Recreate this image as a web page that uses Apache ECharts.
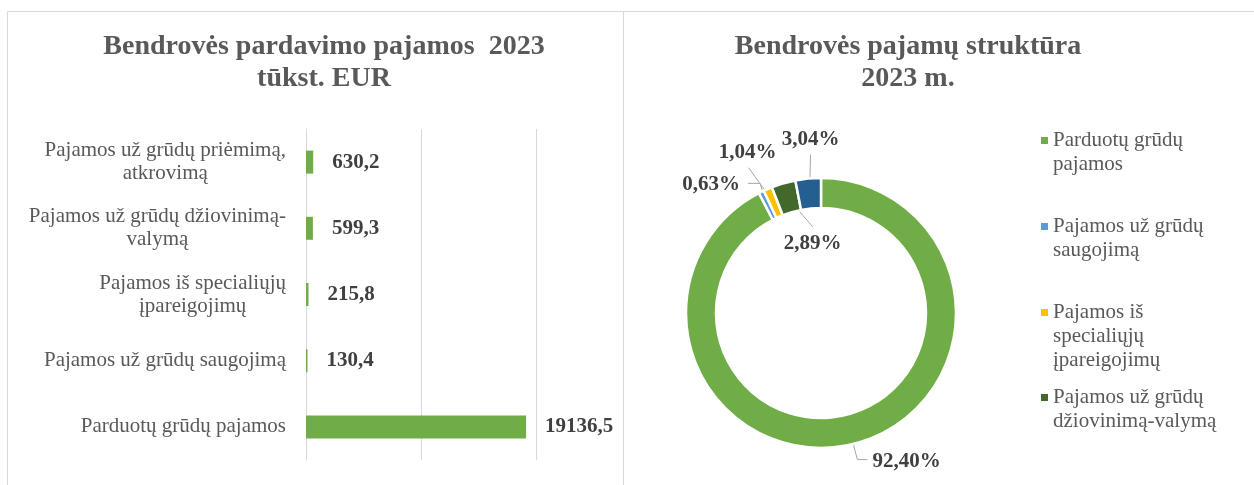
<!DOCTYPE html>
<html>
<head>
<meta charset="utf-8">
<script src="https://cdn.jsdelivr.net/npm/echarts@6/dist/echarts.min.js"></script>
<style>
  html, body { margin: 0; padding: 0; background: #fff; }
  #chart { width: 1254px; height: 485px; }
</style>
</head>
<body>
<div id="chart"></div>
<script>
// category order as in the source sheet (first one drawn at the bottom of the bar chart)
const categories = [
  'Parduotų grūdų pajamos',
  'Pajamos už grūdų saugojimą',
  'Pajamos iš specialiųjų įpareigojimų',
  'Pajamos už grūdų džiovinimą-valymą',
  'Pajamos už grūdų priėmimą, atkrovimą'
];
const axisLabels = [
  'Parduotų grūdų pajamos',
  'Pajamos už grūdų saugojimą',
  'Pajamos iš specialiųjų\nįpareigojimų',
  'Pajamos už grūdų džiovinimą-\nvalymą',
  'Pajamos už grūdų priėmimą,\natkrovimą'
];
const revenue = [19136.5, 130.4, 215.8, 599.3, 630.2];   // tūkst. EUR
const shares = [92.40, 0.63, 1.04, 2.89, 3.04];           // %
const legendLabels = [
  'Parduotų grūdų\npajamos',
  'Pajamos už grūdų\nsaugojimą',
  'Pajamos iš\nspecialiųjų\nįpareigojimų',
  'Pajamos už grūdų\ndžiovinimą-valymą'
];
const pieColors = ['#70AD47', '#5B9BD5', '#FFC000', '#43682B', '#255E91'];

const FONT = '"Liberation Serif", "Times New Roman", serif';
const PIE_CX = 821, PIE_CY = 313, R_IN = 105, R_OUT = 135;
const LEG_LH = 24;

// where each percentage label sits relative to its slice (label offset, line end)
const pieLabelPlace = [
  { dx: 23, dy: 32, align: 'left', line: [[8, 30], [18, 30]] },
  { dx: -28, dy: -21, align: 'right', line: [[-8, -22], [-20, -22]] },
  { dx: -26, dy: -50, align: 'center', line: [[-25, -35]] },
  { dx: 25, dy: 46, align: 'center', line: [[25, 29]] },
  { dx: 1, dy: -54, align: 'center', line: [[1, -39]] }
];
const legendIconY = [142, 228, 314, 399];

const chart = echarts.init(document.getElementById('chart'));

const shareTotal = shares.reduce((a, b) => a + b, 0);
function sliceAnchor(i) {
  let before = 0;
  for (let k = 0; k < i; k++) before += shares[k];
  const a = (before + shares[i] / 2) / shareTotal * Math.PI * 2;
  const r = (R_IN + R_OUT) / 2;
  return [PIE_CX + r * Math.sin(a), PIE_CY - r * Math.cos(a)];
}

const fmt = (v, d) => v.toFixed(d).replace('.', ',');

chart.setOption({
  animation: false,
  textStyle: { fontFamily: FONT },
  graphic: [
    { type: 'rect', z: -10, silent: true, shape: { x: 7.5, y: 11.5, width: 616, height: 520 },
      style: { fill: 'none', stroke: '#d9d9d9', lineWidth: 1 } },
    { type: 'rect', z: -10, silent: true, shape: { x: 623.5, y: 11.5, width: 700, height: 520 },
      style: { fill: 'none', stroke: '#d9d9d9', lineWidth: 1 } }
  ],
  title: [
    {
      text: 'Bendrovės pardavimo pajamos  2023\ntūkst. EUR',
      left: 324, top: 31, padding: 0, textAlign: 'center',
      textStyle: { fontFamily: FONT, fontSize: 28, fontWeight: 'bold', color: '#595959', lineHeight: 32 }
    },
    {
      text: 'Bendrovės pajamų struktūra\n2023 m.',
      left: 908, top: 31, padding: 0, textAlign: 'center',
      textStyle: { fontFamily: FONT, fontSize: 28, fontWeight: 'bold', color: '#595959', lineHeight: 32 }
    }
  ],
  // one legend per entry so the marker lines up with the first text line
  legend: legendLabels.map((txt, i) => {
    const lines = txt.split('\n');
    const n = lines.length;
    const rich = [];
    for (let k = 1; k < n; k++) rich.push('{s| }');
    lines.forEach(l => rich.push('{t|' + l + '}'));
    return {
      data: [categories[i]],
      orient: 'vertical',
      left: 1041,
      top: legendIconY[i] - (2 * n - 1) * LEG_LH / 2,
      padding: 0,
      icon: 'rect',
      itemWidth: 7,
      itemHeight: 7,
      itemStyle: { borderWidth: 0 },
      selectedMode: false,
      formatter: () => rich.join('\n'),
      textStyle: {
        fontFamily: FONT, fontSize: 21, color: '#595959',
        rich: {
          s: { fontFamily: FONT, fontSize: 21, lineHeight: LEG_LH },
          t: { fontFamily: FONT, fontSize: 21, lineHeight: LEG_LH, color: '#595959' }
        }
      }
    };
  }),
  grid: { left: 306, top: 129, width: 230, height: 331 },
  xAxis: {
    type: 'value',
    min: 0, max: 20000, interval: 10000,
    axisLabel: { show: false },
    axisLine: { show: false },
    axisTick: { show: false },
    splitLine: { lineStyle: { color: '#d9d9d9', width: 1 } }
  },
  yAxis: {
    type: 'category',
    data: categories,
    axisTick: { show: false },
    axisLine: { lineStyle: { color: '#d9d9d9', width: 1 } },
    axisLabel: {
      margin: 20,
      color: '#595959',
      fontFamily: FONT,
      fontSize: 21,
      lineHeight: 23,
      formatter: (v, i) => axisLabels[i].split('\n').map(l => '{c|' + l + '}').join('\n'),
      rich: { c: { align: 'center', fontFamily: FONT, fontSize: 21, lineHeight: 23, color: '#595959' } }
    }
  },
  series: [
    {
      type: 'bar',
      data: revenue,
      barWidth: 23,
      itemStyle: { color: '#70AD47' },
      label: {
        show: true, position: 'right', distance: 19,
        formatter: p => fmt(p.value, 1),
        fontFamily: FONT, fontSize: 21, fontWeight: 'bold', color: '#404040'
      }
    },
    {
      type: 'pie',
      center: [PIE_CX, PIE_CY],
      radius: [R_IN, R_OUT],
      startAngle: 90,
      clockwise: true,
      avoidLabelOverlap: false,
      data: categories.map((c, i) => ({ name: c, value: shares[i], itemStyle: { color: pieColors[i] } })),
      itemStyle: { borderColor: '#ffffff', borderWidth: 2.5 },
      emphasis: { disabled: true },
      label: {
        show: true, position: 'outside',
        formatter: p => fmt(p.value, 2) + '%',
        fontFamily: FONT, fontSize: 21, fontWeight: 'bold', color: '#404040'
      },
      labelLine: { show: true, lineStyle: { color: '#a6a6a6', width: 1 } },
      labelLayout: p => {
        const i = p.dataIndex;
        const pl = pieLabelPlace[i];
        const a = sliceAnchor(i);
        return {
          x: a[0] + pl.dx,
          y: a[1] + pl.dy,
          align: pl.align,
          verticalAlign: 'middle',
          labelLinePoints: [a].concat(pl.line.map(q => [a[0] + q[0], a[1] + q[1]]))
        };
      }
    }
  ]
});
</script>
</body>
</html>
